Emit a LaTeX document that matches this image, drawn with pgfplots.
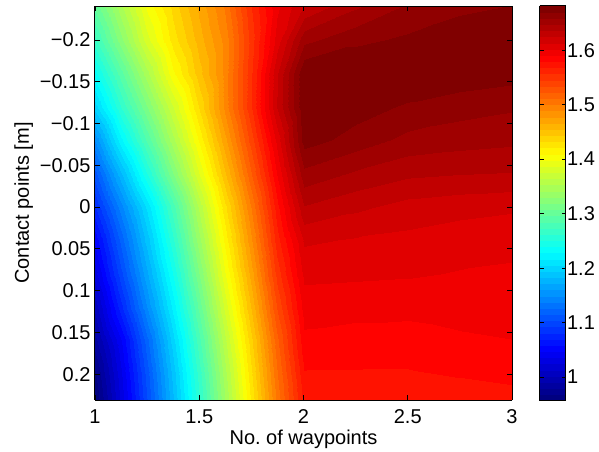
\documentclass[border=0pt]{standalone}
\usepackage{fontspec}
\setmainfont{Liberation Sans}
\usepackage{pgfplots}
\pgfplotsset{compat=1.18}
\usetikzlibrary{calc}
\pgfplotsset{
  colormap={jetbase}{rgb255(0cm)=(0,0,128) rgb255(1cm)=(0,0,255) rgb255(3cm)=(0,255,255) rgb255(5cm)=(255,255,0) rgb255(7cm)=(255,0,0) rgb255(8cm)=(128,0,0)},
  colormap={jet64}{samples of colormap=(64 of jetbase)},
}
\begin{document}
\begin{tikzpicture}
\begin{axis}[
  name=main,
  scale only axis, width=417pt, height=394pt,
  xmin=1, xmax=3, ymin=-0.2407, ymax=0.231,
  y dir=reverse,
  view={0}{90},
  xtick={1,1.5,2,2.5,3},
  xticklabels={1,1.5,2,2.5,3},
  ytick={-0.2,-0.15,-0.1,-0.05,0,0.05,0.1,0.15,0.2},
  yticklabels={−0.2,−0.15,−0.1,−0.05,0,0.05,0.1,0.15,0.2},
  font=\fontsize{20}{24}\selectfont,
  xticklabel style={yshift=-6pt},
  yticklabel style={xshift=-1pt},
  tick align=inside,
  major tick length=5pt,
  axis on top,
  axis line style={line width=1pt},
  every tick/.style={black, line width=0.8pt},
  xlabel={No.\ of waypoints},
  ylabel={Contact points [m]},
  xlabel style={yshift=1pt},
  colormap name=jet64,
  colormap access=piecewise constant,
  point meta min=0.956, point meta max=1.681,
  colorbar,
  colorbar style={
    scale only axis,
    at={(main.north east)}, anchor=north west, xshift=19pt,
    width=26pt, height=395pt,
    ytick={1,1.1,1.2,1.3,1.4,1.5,1.6},
    yticklabels={1,1.1,1.2,1.3,1.4,1.5,1.6},
    yticklabel style={xshift=-2pt},
    tick align=inside, ytick pos=both, yticklabel pos=right,
    major tick length=4pt,
    axis line style={line width=1pt},
    every tick/.style={black, line width=0.8pt},
    font=\fontsize{20}{24}\selectfont,
  },
]
\addplot3[surf, shader=interp, mesh/ordering=x varies, mesh/cols=13] table {
x y z
1 -0.2407 1.300
1.125 -0.2407 1.350
1.25 -0.2407 1.401
1.375 -0.2407 1.436
1.5 -0.2407 1.469
1.625 -0.2407 1.502
1.75 -0.2407 1.556
1.875 -0.2407 1.599
2 -0.2407 1.625
2.25 -0.2407 1.645
2.5 -0.2407 1.660
2.75 -0.2407 1.667
3 -0.2407 1.670
1 -0.2 1.270
1.125 -0.2 1.326
1.25 -0.2 1.382
1.375 -0.2 1.426
1.5 -0.2 1.460
1.625 -0.2 1.493
1.75 -0.2 1.550
1.875 -0.2 1.607
2 -0.2 1.655
2.25 -0.2 1.667
2.5 -0.2 1.672
2.75 -0.2 1.677
3 -0.2 1.680
1 -0.16 1.235
1.125 -0.16 1.292
1.25 -0.16 1.349
1.375 -0.16 1.407
1.5 -0.16 1.450
1.625 -0.16 1.493
1.75 -0.16 1.554
1.875 -0.16 1.623
2 -0.16 1.680
2.25 -0.16 1.681
2.5 -0.16 1.680
2.75 -0.16 1.678
3 -0.16 1.675
1 -0.12 1.200
1.125 -0.12 1.262
1.25 -0.12 1.318
1.375 -0.12 1.375
1.5 -0.12 1.433
1.625 -0.12 1.493
1.75 -0.12 1.555
1.875 -0.12 1.625
2 -0.12 1.680
2.25 -0.12 1.675
2.5 -0.12 1.668
2.75 -0.12 1.663
3 -0.12 1.660
1 -0.08 1.150
1.125 -0.08 1.225
1.25 -0.08 1.287
1.375 -0.08 1.349
1.5 -0.08 1.411
1.625 -0.08 1.474
1.75 -0.08 1.539
1.875 -0.08 1.606
2 -0.08 1.675
2.25 -0.08 1.665
2.5 -0.08 1.655
2.75 -0.08 1.652
3 -0.08 1.650
1 -0.04 1.110
1.125 -0.04 1.180
1.25 -0.04 1.250
1.375 -0.04 1.318
1.5 -0.04 1.386
1.625 -0.04 1.453
1.75 -0.04 1.521
1.875 -0.04 1.591
2 -0.04 1.655
2.25 -0.04 1.645
2.5 -0.04 1.638
2.75 -0.04 1.636
3 -0.04 1.635
1 0 1.080
1.125 0 1.144
1.25 0 1.208
1.375 0 1.279
1.5 0 1.355
1.625 0 1.429
1.75 0 1.500
1.875 0 1.575
2 0 1.635
2.25 0 1.627
2.5 0 1.620
2.75 0 1.617
3 0 1.615
1 0.04 1.050
1.125 0.04 1.119
1.25 0.04 1.188
1.375 0.04 1.260
1.5 0.04 1.337
1.625 0.04 1.413
1.75 0.04 1.486
1.875 0.04 1.563
2 0.04 1.615
2.25 0.04 1.612
2.5 0.04 1.610
2.75 0.04 1.607
3 0.04 1.605
1 0.08 1.030
1.125 0.08 1.100
1.25 0.08 1.169
1.375 0.08 1.240
1.5 0.08 1.318
1.625 0.08 1.397
1.75 0.08 1.471
1.875 0.08 1.550
2 0.08 1.605
2.25 0.08 1.604
2.5 0.08 1.603
2.75 0.08 1.601
3 0.08 1.600
1 0.12 1.005
1.125 0.12 1.077
1.25 0.12 1.149
1.375 0.12 1.221
1.5 0.12 1.299
1.625 0.12 1.379
1.75 0.12 1.455
1.875 0.12 1.535
2 0.12 1.595
2.25 0.12 1.594
2.5 0.12 1.594
2.75 0.12 1.596
3 0.12 1.598
1 0.16 0.985
1.125 0.16 1.045
1.25 0.16 1.122
1.375 0.16 1.200
1.5 0.16 1.280
1.625 0.16 1.361
1.75 0.16 1.439
1.875 0.16 1.519
2 0.16 1.588
2.25 0.16 1.586
2.5 0.16 1.585
2.75 0.16 1.588
3 0.16 1.590
1 0.2 0.965
1.125 0.2 1.033
1.25 0.2 1.109
1.375 0.2 1.187
1.5 0.2 1.267
1.625 0.2 1.348
1.75 0.2 1.429
1.875 0.2 1.510
2 0.2 1.578
2.25 0.2 1.578
2.5 0.2 1.578
2.75 0.2 1.580
3 0.2 1.582
1 0.231 0.956
1.125 0.231 1.027
1.25 0.231 1.103
1.375 0.231 1.181
1.5 0.231 1.260
1.625 0.231 1.341
1.75 0.231 1.422
1.875 0.231 1.503
2 0.231 1.572
2.25 0.231 1.572
2.5 0.231 1.572
2.75 0.231 1.573
3 0.231 1.575
};
\end{axis}
\path ($(main.south west)+(-95pt,-49pt)$) rectangle ($(main.north east)+(87pt,6pt)$);
\end{tikzpicture}
\end{document}
